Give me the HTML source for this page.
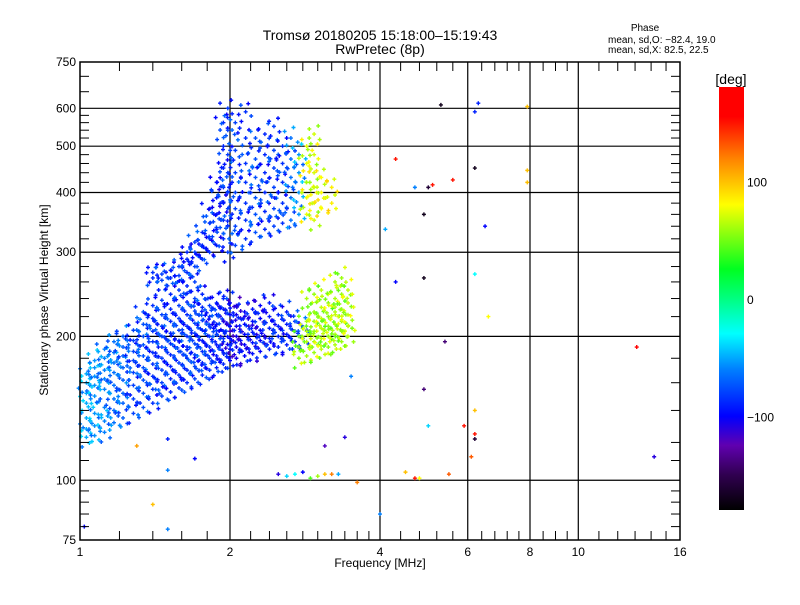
<!DOCTYPE html>
<html><head><meta charset="utf-8"><style>
body{margin:0;background:#fff;}
svg text{font-family:"Liberation Sans",sans-serif;fill:#000;}
</style></head><body>
<svg id="chart" width="800" height="600" viewBox="0 0 800 600" xmlns="http://www.w3.org/2000/svg">
<defs><linearGradient id="cbg" x1="0" y1="1" x2="0" y2="0">
<stop offset="0" stop-color="#000000"/><stop offset="0.083" stop-color="#300050"/><stop offset="0.153" stop-color="#6000b0"/><stop offset="0.222" stop-color="#0000ff"/><stop offset="0.333" stop-color="#0080ff"/><stop offset="0.417" stop-color="#00ffff"/><stop offset="0.5" stop-color="#00ff80"/><stop offset="0.57" stop-color="#00ff20"/><stop offset="0.722" stop-color="#ffff00"/><stop offset="0.833" stop-color="#ff8000"/><stop offset="0.93" stop-color="#ff0000"/><stop offset="1" stop-color="#ff0000"/>
</linearGradient></defs>
<text x="380" y="40" font-size="14" text-anchor="middle">Tromsø 20180205 15:18:00–15:19:43</text>
<text x="380" y="54" font-size="14" text-anchor="middle">RwPretec (8p)</text>
<text x="645" y="31" font-size="10" text-anchor="middle">Phase</text>
<text x="608" y="43" font-size="10">mean, sd,O: −82.4, 19.0</text>
<text x="608" y="53" font-size="10">mean, sd,X:  82.5, 22.5</text>
<g id="grid"></g>
<g id="marks"></g>
<rect x="80" y="62" width="600" height="478" fill="none" stroke="#000" stroke-width="1.5"/>
<g id="axes"></g>
<text x="380" y="567" font-size="12" text-anchor="middle">Frequency [MHz]</text>
<text x="0" y="0" font-size="12" text-anchor="middle" transform="translate(48,300) rotate(-90)">Stationary phase Virtual Height [km]</text>
<rect x="719" y="87" width="25" height="423" fill="url(#cbg)"/>
<text x="731" y="84" font-size="14" text-anchor="middle">[deg]</text>
<g id="cbar"></g>
</svg>
<script>
const xTickVals=[1,2,4,6,8,10,16];
const yTickVals=[75,100,200,300,400,500,600,750];
const xGridVals=[2,4,6,8,10];
const yGridVals=[100,200,300,400,500,600];
const xMinor=[1.2,1.4,1.6,1.8,2.2,2.4,2.6,2.8,3,3.2,3.4,3.6,3.8,4.4,4.8,5.2,5.6,6.4,6.8,7.2,7.6,8.5,9,9.5,11,12,13,14,15];
const yMinor=[80,85,90,95,110,120,140,160,180,220,240,260,280,320,340,360,380,420,440,460,480,520,540,560,580,650,700];
const cbarTicks=[100,0,-100];
// columns: [frequency MHz, phase deg, heights km...]
const traceColumns=[
[1.03,-50,123,128,135,145,152,160,167],
[1.07,-55,124,130,138,150,158,165,172,178],
[1.12,-60,126,133,142,155,163,170,180,188],
[1.17,-65,132,140,148,158,168,176,185,195],
[1.22,-70,135,145,152,162,172,182,190,200],
[1.28,-80,138,148,158,168,178,186,196,206],
[1.34,-75,142,152,162,172,182,192,200,212,225],
[1.40,-85,145,155,165,175,185,195,205,218,232,265,272],
[1.46,-80,150,160,170,180,190,200,210,222,238,262,270],
[1.52,-88,153,163,173,183,193,203,215,228,245,265,275],
[1.58,-82,156,166,176,186,196,206,218,232,250,268,280],
[1.64,-88,160,170,180,190,200,210,222,236,255,272,290,300],
[1.70,-80,163,173,183,193,203,213,226,240,260,280,300,315],
[1.76,-88,166,176,186,196,206,216,230,245,290,310,330],
[1.82,-84,170,180,190,200,210,220,232,300,320,345,370],
[1.88,-92,172,182,192,202,212,222,235,310,335,360,390,420],
[1.94,-88,175,185,195,205,215,228,240,320,350,380,410,450,500,560],
[1.98,-82,300,340,370,400,440,480,540,600],
[2.00,-100,178,188,198,210,222,235],
[2.06,-105,180,190,200,210,222,232],
[2.14,-100,182,192,202,212,225],
[2.22,-95,184,194,204,215,228],
[2.30,-100,186,196,206,218,232],
[2.40,-92,188,198,208,220,235],
[2.50,-90,190,200,210,222],
[2.60,-92,192,202,212,225],
[2.70,-85,195,205,215],
[2.80,-75,198,208],
[2.05,-80,310,340,370,400,440,490,560],
[2.15,-85,320,350,380,420,460,520,590],
[2.25,-75,330,360,390,430,470,520],
[2.35,-88,335,365,400,440,480,530],
[2.45,-80,340,370,410,450,490,550],
[2.55,-85,345,380,420,460,500],
[2.65,-65,350,390,430,470,520],
[2.75,-55,360,400,440,480],
[2.85,75,360,390,420,460,500],
[2.95,70,350,380,410,440,480,530],
[3.05,80,370,400,430],
[3.20,85,380,410],
[2.75,55,180,190,200],
[2.85,62,182,195,205,215,240],
[2.95,58,185,195,205,215,225,245],
[3.05,66,188,198,208,218,230,250],
[3.15,55,190,200,210,220,235],
[3.25,62,192,202,212,225,240,260],
[3.35,58,195,205,215,228,245,265],
[3.45,66,200,210,222,235,250]
];
const scatterFreqs=[2.5,2.6,2.7,2.8,2.9,3.0,3.1,3.2,3.3,3.6,4.5,4.7,5.5,1.02,1.4,1.5,1.7,1.5,1.3,1.5,3.1,3.4,3.5,5.3,6.3,6.2,7.9,7.9,7.9,4.3,4.9,4.9,4.3,5.0,5.1,5.6,4.7,6.2,6.5,6.2,5.4,6.6,4.1,5.0,4.9,6.2,6.2,5.9,6.1,14.2,13.1,6.2,4.8,4.0];
const scatterHeights=[103,102,103,104,101,102,103,103,103,99,104,101,103,80,89,79,111,122,118,105,118,123,165,610,615,590,605,445,420,470,360,265,260,410,415,425,410,450,340,270,195,220,335,130,155,140,125,130,112,112,190,122,101,85];
const scatterPhases=[-110,-40,-30,-100,40,60,100,120,-50,120,100,150,130,-100,100,-60,-100,-90,110,-60,-120,-110,-60,-170,-90,-90,100,100,100,150,-170,-170,-100,-160,150,150,-60,-170,-100,-30,-140,80,-50,-40,-140,100,150,150,130,-110,160,-160,80,-60];

const X0=80,X1=680,Y0=540,Y1=62;
const xs=f=>X0+(X1-X0)*Math.log2(f)/4;
const ys=h=>Y0-(Y0-Y1)*Math.log10(h/75);
const cy=p=>300-p*1.175;
const NS='http://www.w3.org/2000/svg';
function mk(t,a,parent){const e=document.createElementNS(NS,t);for(const k in a)e.setAttribute(k,a[k]);parent.appendChild(e);return e;}
const stops=[[-180,0,0,0],[-150,48,0,80],[-125,96,0,176],[-100,0,0,255],[-60,0,128,255],[-30,0,255,255],[0,0,255,128],[25,0,255,32],[80,255,255,0],[120,255,128,0],[155,255,0,0],[180,255,0,0]];
function col(p){for(let i=1;i<stops.length;i++){if(p<=stops[i][0]){const a=stops[i-1],b=stops[i],t=(p-a[0])/(b[0]-a[0]);return 'rgb('+[1,2,3].map(j=>Math.round(a[j]+t*(b[j]-a[j]))).join(',')+')';}}return 'rgb(255,0,0)';}
const grid=document.getElementById('grid'),axes=document.getElementById('axes'),marks=document.getElementById('marks'),cbar=document.getElementById('cbar');
xGridVals.forEach(v=>{const l=mk('line',{x1:xs(v),x2:xs(v),y1:Y1,y2:Y0,stroke:'#000','stroke-width':1.2},grid);

});
yGridVals.forEach(v=>{const l=mk('line',{x1:X0,x2:X1,y1:ys(v),y2:ys(v),stroke:'#000','stroke-width':1.2},grid);

});
xMinor.forEach(v=>{const x=xs(v);
mk('line',{x1:x,x2:x,y1:Y0,y2:Y0-9,stroke:'#000'},axes);
mk('line',{x1:x,x2:x,y1:Y1,y2:Y1+9,stroke:'#000'},axes);});
yMinor.forEach(v=>{const y=ys(v);
mk('line',{x1:X0,x2:X0+9,y1:y,y2:y,stroke:'#000'},axes);
mk('line',{x1:X1,x2:X1-9,y1:y,y2:y,stroke:'#000'},axes);});
xTickVals.forEach(v=>{const t=mk('text',{x:xs(v),y:556,'font-size':12,'text-anchor':'middle'},axes);t.textContent=v;

});
yTickVals.forEach(v=>{const t=mk('text',{x:76,y:ys(v)+4,'font-size':12,'text-anchor':'end'},axes);t.textContent=v;

});
cbarTicks.forEach(v=>{const t=mk('text',{x:747,y:cy(v)+4,'font-size':12},cbar);t.textContent=(v<0?'−':'')+Math.abs(v);

});
function plus(f,h,p){const x=xs(f),y=ys(h),c=col(p);
const g=mk('path',{d:`M${x-2} ${y}h4M${x} ${y-2}v4`,stroke:c,'stroke-width':1.4,fill:'none'},marks);

}
// spread pattern for rendering each echo as a small cluster (styling only)
const spread=[[0,0,0],[-0.022,0.025,10],[0.02,-0.02,-8],[0.012,0.04,15],[-0.015,-0.035,-12]];
traceColumns.forEach((c,ci)=>{const f=c[0],p=c[1];for(let i=2;i<c.length;i++){
spread.forEach((s,k)=>{const r=(i+ci+k)%5;const ph=p+s[2]*((r%2)?1:-1);
plus(f*(1+s[0]*(1+(r%3)*0.3)),c[i]*(1+s[1]*(1+(r%2)*0.3)),ph);});}});
scatterFreqs.forEach((f,i)=>plus(f,scatterHeights[i],scatterPhases[i]));
</script>
</body></html>
